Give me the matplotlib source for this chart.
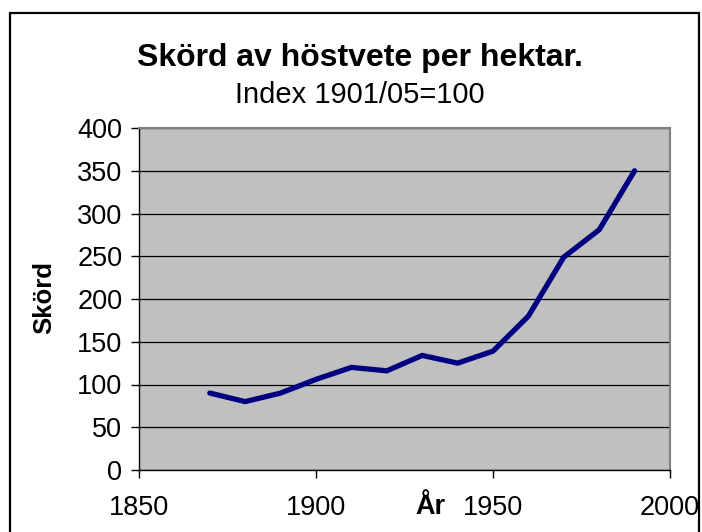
import matplotlib
matplotlib.use("Agg")
import matplotlib.pyplot as plt
from matplotlib.patches import Rectangle

years = [1870, 1880, 1890, 1900, 1910, 1920, 1930, 1940, 1950, 1960, 1970, 1980, 1990]
skord = [90, 80, 90, 106, 120, 116, 134, 125, 139, 180, 249, 281, 350]
xticks = [1850, 1900, 1950, 2000]
yticks = [0, 50, 100, 150, 200, 250, 300, 350, 400]

plt.rcParams['font.family'] = ['Liberation Sans', 'DejaVu Sans']

fig = plt.figure(figsize=(7.02, 5.32), dpi=100)
fig.patch.set_facecolor('white')
ax = fig.add_axes([139/702, 1-470/532, (670-139)/702, (470-128)/532])
ax.set_facecolor('#C0C0C0')
ax.plot(years, skord, color='#000080', lw=3.8, solid_capstyle='round', solid_joinstyle='round', zorder=3)
ax.set_xlim(1850, 2000)
ax.set_ylim(0, 400)
ax.set_xticks(xticks)
ax.set_yticks(yticks)
ax.yaxis.grid(True, color='black', lw=0.9)
ax.set_axisbelow(True)
for s in ['top', 'right']:
    ax.spines[s].set_color('#808080')
    ax.spines[s].set_linewidth(1.5)
for s in ['left', 'bottom']:
    ax.spines[s].set_color('black')
    ax.spines[s].set_linewidth(1.0)
ax.tick_params(axis='both', direction='out', length=6, width=1, labelsize=19.5)
ax.tick_params(axis='y', pad=6)
ax.tick_params(axis='x', pad=12)

fig.text(0.513, 1-58/532, 'Skörd av höstvete per hektar.', ha='center', va='center', fontsize=23, fontweight='bold')
fig.text(0.512, 1-95/532, 'Index 1901/05=100', ha='center', va='center', fontsize=21)
fig.text(44/702, 1-298/532, 'Skörd', ha='center', va='center', rotation=90, fontsize=18.5, fontweight='bold')
fig.text(430/702, 1-507/532, 'År', ha='center', va='center', fontsize=19.5, fontweight='bold')

fig.patches.append(Rectangle((10/702, -0.05), (699-10)/702, 1.05-13/532, transform=fig.transFigure,
                             fill=False, edgecolor='black', lw=1.6))
fig.savefig('out.png', dpi=100)
